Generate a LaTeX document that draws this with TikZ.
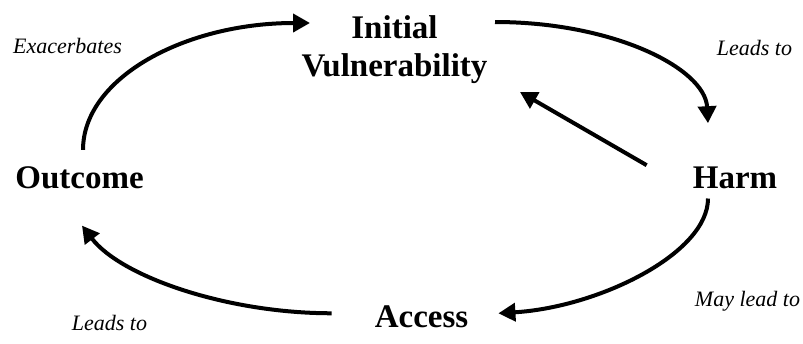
\documentclass[tikz,border=0pt]{standalone}
\usepackage{fontspec}
\setmainfont{Liberation Serif}
\usetikzlibrary{arrows.meta,calc}

\tikzset{
  concept/.style={inner sep=0pt, font=\fontsize{33}{38}\selectfont\bfseries, align=center},
  relation/.style={inner sep=0pt, font=\fontsize{22}{26}\selectfont\itshape, anchor=base},
  flow/.style={line width=4pt, -{Triangle[length=17pt,width=18pt]}}
}

\begin{document}
\begin{tikzpicture}[x=1pt, y=-1pt]
  \useasboundingbox (0,0) rectangle (803,343);

  % the four stages of the cycle
  \node[concept] (init) at (394.5,49.4) {Initial\\Vulnerability};
  \node[concept, anchor=base] (harm) at (735,188) {Harm};
  \node[concept, anchor=base] (access) at (421.5,327) {Access};
  \node[concept, anchor=base] (outcome) at (79.5,188) {Outcome};

  % labels on the arcs
  \node[relation] (lexac) at (67.5,53) {Exacerbates};
  \node[relation] (lharm) at (754.5,55) {Leads to};
  \node[relation] (laccess) at (747.5,306) {May lead to};
  \node[relation] (lout) at (109.5,330) {Leads to};

  % cycle arcs
  \draw[flow] ($(outcome.north)+(3.5,-16)$)
     .. controls +(0,-72) and +(-125,0) .. ($(init.center)+(-84.5,-26.4)$);
  \draw[flow] ($(init.center)+(100.5,-27.4)$)
     .. controls +(118,0) and +(-3,-55) .. ($(harm.north)+(-27,-43)$);
  \draw[flow] ($(harm.south)+(-27,10)$)
     .. controls +(0,55) and +(100,-6) .. ($(access.east)+(30,-3)$);
  \draw[flow] ($(access.west)+(-43,-3)$)
     .. controls +(-105,0) and +(39,51) .. ($(outcome.south)+(2.5,37)$);

  % feedback from harm back to vulnerability
  \draw[flow] ($(harm.north west)+(-46,-1)$) -- ($(init.center)+(125.5,42.6)$);
\end{tikzpicture}
\end{document}
